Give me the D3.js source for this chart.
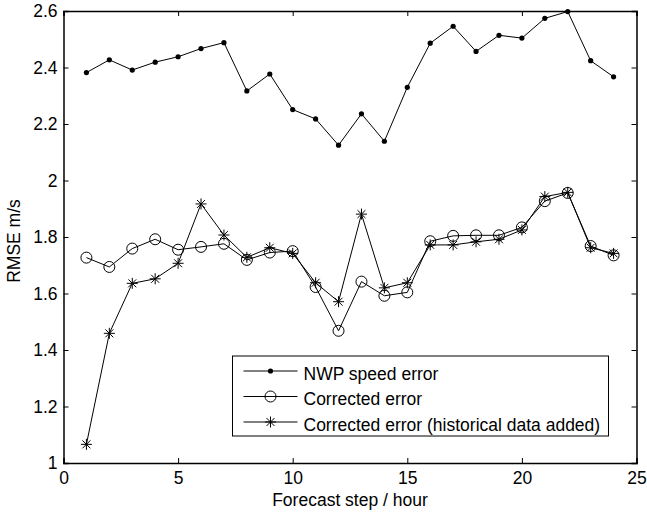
<!DOCTYPE html>
<html>
<head>
<meta charset="utf-8">
<script src="https://cdn.jsdelivr.net/npm/d3@7"></script>
<style>
  body { margin: 0; background: #fff; }
  text { font-family: "Liberation Sans", Arial, sans-serif; fill: #000; }
</style>
</head>
<body>
<div id="chart"></div>
<script>
const steps = d3.range(1, 25);
const nwpError = [2.382, 2.427, 2.391, 2.419, 2.438, 2.467, 2.488, 2.317, 2.377, 2.251, 2.218, 2.125,
                  2.236, 2.139, 2.330, 2.486, 2.546, 2.457, 2.514, 2.504, 2.574, 2.598, 2.424, 2.367];
const correctedError = [1.727, 1.694, 1.759, 1.792, 1.755, 1.765, 1.776, 1.719, 1.745, 1.750, 1.623, 1.468,
                        1.642, 1.592, 1.604, 1.785, 1.804, 1.806, 1.806, 1.834, 1.927, 1.956, 1.768, 1.735];
const histError = [1.066, 1.459, 1.636, 1.652, 1.707, 1.917, 1.807, 1.728, 1.762, 1.742, 1.638, 1.571,
                   1.881, 1.620, 1.638, 1.772, 1.772, 1.783, 1.792, 1.825, 1.943, 1.958, 1.762, 1.742];
const xTicks = [0, 5, 10, 15, 20, 25];
const yTicks = [1, 1.2, 1.4, 1.6, 1.8, 2, 2.2, 2.4, 2.6];
const seriesNames = ["NWP speed error", "Corrected error", "Corrected error (historical data added)"];

const w = 647, h = 512;
const m = { top: 11, right: 10.5, bottom: 49, left: 63.5 };
const fs = 17.5;

const svg = d3.select("#chart").append("svg")
  .attr("width", w).attr("height", h);

const x = d3.scaleLinear().domain([0, 25]).range([m.left, w - m.right]);
const y = d3.scaleLinear().domain([1, 2.6]).range([h - m.bottom, m.top]);

// box + ticks on all four sides, ticks pointing inward
svg.append("g")
  .attr("transform", "translate(0," + (h - m.bottom) + ")")
  .call(d3.axisBottom(x).tickValues(xTicks).tickSize(-5).tickPadding(9).tickFormat(d3.format("d")))
  .call(g => g.selectAll("text").attr("font-size", fs));
svg.append("g")
  .attr("transform", "translate(0," + m.top + ")")
  .call(d3.axisTop(x).tickValues(xTicks).tickSize(-5).tickFormat(""));
svg.append("g")
  .attr("transform", "translate(" + m.left + ",0)")
  .call(d3.axisLeft(y).tickValues(yTicks).tickSize(-5).tickPadding(6).tickFormat(d => d3.format("")(d)))
  .call(g => g.selectAll("text").attr("font-size", fs));
svg.append("g")
  .attr("transform", "translate(" + (w - m.right) + ",0)")
  .call(d3.axisRight(y).tickValues(yTicks).tickSize(-5).tickFormat(""));

svg.selectAll(".domain").attr("stroke", "#000").attr("stroke-width", 1.5);
svg.selectAll(".tick line").attr("stroke", "#000");
svg.selectAll("text").attr("font-family", "Liberation Sans, Arial, sans-serif");

const line = d3.line().x((d, i) => x(steps[i])).y(d => y(d));

function starPath(r) {
  const d = r * 0.72;
  return `M${-r},0L${r},0M0,${-r}L0,${r}M${-d},${-d}L${d},${d}M${-d},${d}L${d},${-d}`;
}

function drawMarker(sel, kind) {
  if (kind === 0) {
    sel.append("circle").attr("r", 2.6).attr("fill", "#000");
  } else if (kind === 1) {
    sel.append("circle").attr("r", 5.5).attr("fill", "none").attr("stroke", "#000").attr("stroke-width", 1);
  } else {
    sel.append("path").attr("d", starPath(5.5)).attr("stroke", "#000").attr("stroke-width", 1);
  }
}

const allSeries = [nwpError, correctedError, histError];
allSeries.forEach((vals, k) => {
  svg.append("path")
    .datum(vals)
    .attr("d", line)
    .attr("fill", "none")
    .attr("stroke", "#000")
    .attr("stroke-width", 1);
  svg.append("g").selectAll("g")
    .data(vals)
    .join("g")
    .attr("transform", (d, i) => `translate(${x(steps[i])},${y(d)})`)
    .each(function() { drawMarker(d3.select(this), k); });
});

// legend
const lg = svg.append("g").attr("transform", "translate(232.5,356)");
lg.append("rect").attr("width", 376).attr("height", 80)
  .attr("fill", "#fff").attr("stroke", "#000").attr("stroke-width", 1);
seriesNames.forEach((name, k) => {
  const yy = 15 + k * 25.5;
  const row = lg.append("g").attr("transform", `translate(0,${yy})`);
  row.append("line").attr("x1", 11).attr("x2", 65).attr("stroke", "#000");
  drawMarker(row.append("g").attr("transform", "translate(38,0)"), k);
  row.append("text").attr("x", 71).attr("y", 8.5).attr("font-size", fs).text(name);
});

// axis labels
svg.append("text")
  .attr("x", (m.left + w - m.right) / 2)
  .attr("y", 506)
  .attr("text-anchor", "middle")
  .attr("font-size", fs)
  .text("Forecast step / hour");

svg.append("text")
  .attr("transform", "rotate(-90)")
  .attr("x", -241)
  .attr("y", 20)
  .attr("text-anchor", "middle")
  .attr("font-size", fs)
  .text("RMSE m/s");
</script>
</body>
</html>
